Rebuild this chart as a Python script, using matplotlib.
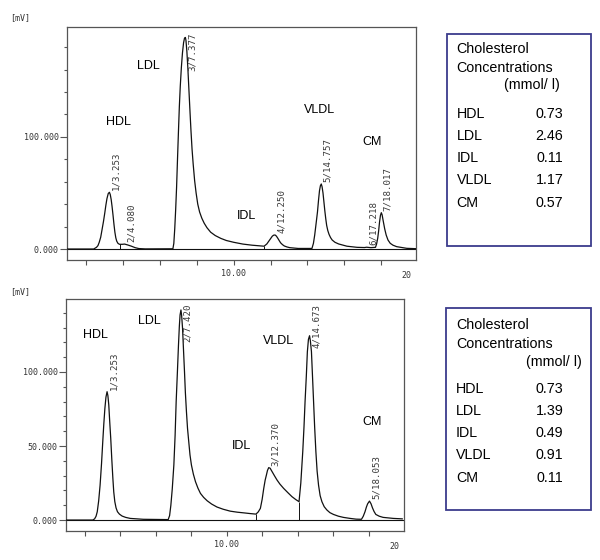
import numpy as np
import matplotlib
matplotlib.use("Agg")
import matplotlib.pyplot as plt
from matplotlib.patches import Rectangle

# ---------------- data ----------------
# top chromatogram trace (time [min], signal [mV])
top_t = [0.9, 2.40, 2.55, 2.63, 2.70, 2.78, 2.85, 2.93, 3.00, 3.06, 3.12, 3.19, 3.253,
         3.30, 3.35, 3.40, 3.45, 3.50, 3.55, 3.60, 3.65, 3.72, 3.80,
         3.95, 4.08, 4.25, 4.45, 4.65, 4.85, 5.2,
         6.70, 6.75, 6.80, 6.85, 6.90, 6.95, 7.00, 7.05, 7.10, 7.16, 7.22, 7.28, 7.33,
         7.377, 7.41, 7.46, 7.51, 7.57, 7.63, 7.68, 7.74, 7.80, 7.88, 7.96, 8.05, 8.15,
         8.27, 8.40, 8.55, 8.75, 9.0, 9.3, 9.6, 10.0, 10.5, 11.0, 11.65,
         11.80, 11.95, 12.10, 12.18, 12.25, 12.32, 12.40, 12.48, 12.55, 12.65, 12.75,
         12.9, 13.05, 13.5, 14.25,
         14.33, 14.40, 14.47, 14.55, 14.61, 14.66, 14.71, 14.757, 14.80, 14.85, 14.90,
         14.95, 15.00, 15.05, 15.11, 15.18, 15.26, 15.35, 15.5, 15.7, 16.15, 16.7,
         17.1, 17.218, 17.45, 17.70,
         17.76, 17.82, 17.87, 17.92, 17.97, 18.017, 18.06, 18.12, 18.20, 18.28, 18.38,
         18.5, 18.65, 18.85, 19.4, 19.9]
top_mv = [0.0, 0.0, 1.5, 3.0, 6.0, 10.5, 17.0, 24.5, 32.0, 39.0, 45.0, 49.5, 50.6,
          48.5, 44.0, 37.5, 30.0, 22.0, 15.0, 10.0, 7.0, 5.0, 4.2,
          4.2, 4.4, 3.6, 2.5, 1.2, 0.4, 0.1,
          0.2, 5.0, 18.0, 35.0, 55.0, 80.0, 104.0, 127.0, 145.0, 162.0, 175.0, 184.0, 188.0,
          188.7, 186.0, 176.0, 162.0, 142.0, 122.0, 106.0, 89.0, 76.0, 61.0, 50.0, 40.0, 33.0,
          27.5, 23.0, 19.0, 15.0, 12.0, 9.5, 7.6, 6.0, 4.4, 3.4, 2.5,
          4.5, 8.0, 11.5, 12.4, 12.5, 11.5, 9.5, 7.3, 5.5, 3.9, 2.7,
          1.8, 1.2, 0.5, 0.5,
          5.0, 12.5, 22.0, 33.0, 44.0, 52.0, 56.5, 58.0, 55.5, 50.0, 42.0,
          34.0, 27.0, 21.0, 16.5, 13.0, 10.2, 8.0, 6.0, 4.5, 2.5, 1.5,
          1.3, 1.6, 1.2, 1.5,
          4.5, 9.5, 16.0, 24.0, 30.0, 32.4, 30.5, 25.0, 18.0, 12.5, 8.0,
          5.1, 3.4, 2.1, 0.6, 0.3]
top_peak_rt = [3.253, 4.080, 7.377, 12.250, 14.757, 17.218, 18.017]
top_peak_mv = [50.6, 4.4, 188.7, 12.5, 58.0, 1.6, 32.4]
top_peak_tags = ["1/3.253", "2/4.080", "3/7.377", "4/12.250", "5/14.757", "6/17.218", "7/18.017"]
top_drop_t = [3.85, 11.65]
top_drop_mv = [4.2, 2.5]

# bottom chromatogram trace
bot_t = [0.9, 2.45, 2.55, 2.63, 2.70, 2.78, 2.86, 2.94, 3.01, 3.07, 3.13, 3.19, 3.253,
         3.30, 3.35, 3.40, 3.46, 3.52, 3.58, 3.63, 3.69, 3.76, 3.84, 3.95, 4.10, 4.3,
         4.56, 5.3,
         6.70, 6.78, 6.85, 6.93, 7.02, 7.09, 7.15, 7.22, 7.28, 7.33, 7.37, 7.42, 7.46,
         7.51, 7.56, 7.62, 7.67, 7.73, 7.79, 7.86, 7.93, 8.01, 8.12, 8.24, 8.38, 8.52,
         8.7, 8.9, 9.15, 9.45, 9.8, 10.2, 10.6, 11.0, 11.3, 11.65,
         11.78, 11.9, 12.0, 12.09, 12.17, 12.24, 12.30, 12.37, 12.45, 12.56, 12.7,
         12.84, 13.0, 13.21, 13.45, 13.68, 13.9, 14.08,
         14.18, 14.29, 14.36, 14.42, 14.49, 14.55, 14.61, 14.673, 14.72, 14.78, 14.84,
         14.90, 14.96, 15.03, 15.10, 15.18, 15.27, 15.37, 15.5, 15.65, 15.82, 16.02,
         16.3, 16.58, 16.96, 17.3, 17.6,
         17.70, 17.80, 17.88, 17.95, 18.053, 18.14, 18.22, 18.31, 18.41, 18.6, 18.82,
         19.4, 19.9]
bot_mv = [0.0, 0.0, 0.8, 2.5, 5.6, 13.0, 23.6, 38.0, 52.9, 65.0, 75.4, 83.0, 86.7,
          84.0, 77.7, 67.0, 55.2, 41.0, 28.2, 19.0, 12.4, 8.2, 5.6, 4.0, 2.7, 1.8,
          1.1, 0.5,
          0.3, 3.0, 9.9, 21.0, 37.2, 57.0, 79.9, 100.0, 118.0, 131.0, 138.5, 141.9, 138.0,
          129.5, 116.0, 100.2, 86.0, 73.2, 62.0, 52.9, 44.0, 37.2, 31.0, 25.9, 21.5, 18.0,
          15.3, 13.0, 10.8, 8.8, 7.3, 6.0, 5.3, 4.8, 4.4, 4.0,
          5.5, 7.9, 14.0, 21.4, 27.0, 30.4, 33.5, 35.4, 35.0, 32.7, 29.8,
          27.0, 24.3, 21.4, 18.5, 15.8, 13.8, 12.4,
          25.0, 46.2, 63.0, 80.0, 97.0, 113.7, 122.0, 124.5, 121.0, 113.7, 97.0,
          80.0, 63.0, 46.2, 33.0, 23.6, 16.5, 12.4, 9.0, 6.8, 5.0, 3.8,
          2.6, 1.8, 1.1, 0.6, 0.5,
          2.5, 5.6, 8.8, 11.0, 12.8, 11.0, 8.3, 5.8, 3.8, 2.6, 1.8,
          1.1, 0.8]
bot_peak_rt = [3.253, 7.420, 12.370, 14.673, 18.053]
bot_peak_mv = [86.7, 141.9, 35.4, 124.5, 12.8]
bot_peak_tags = ["1/3.253", "2/7.420", "3/12.370", "4/14.673", "5/18.053"]
bot_drop_t = [11.65, 14.08]
bot_drop_mv = [4.0, 12.4]

# lipoprotein class names written on the charts
classes = ["HDL", "LDL", "IDL", "VLDL", "CM"]

# concentration tables
table_title = ["Cholesterol", "Concentrations", "(mmol/ l)"]
top_conc = ["0.73", "2.46", "0.11", "1.17", "0.57"]
bot_conc = ["0.73", "1.39", "0.49", "0.91", "0.11"]

# ---------------- layout ----------------
W, H, DPI = 600, 560, 100
fig = plt.figure(figsize=(W / DPI, H / DPI), dpi=DPI)
fig.patch.set_facecolor("white")


def fx(px):
    return px / W


def fy(py):
    return 1 - py / H


def make_axes(l, t, r, b):
    return fig.add_axes([fx(l), fy(b), fx(r) - fx(l), fy(t) - fy(b)])


ax_top = make_axes(67, 27, 416, 260)
ax_bot = make_axes(65.7, 299, 404, 530.7)

MONO = "DejaVu Sans Mono"
SANS = "Liberation Sans"
INK = "#111111"
FRAME = "#555555"
TAGC = "#3a3a3a"


def style_axes(ax, xlim, ylim, ymajor, yminor, ylabels):
    ax.set_xlim(*xlim)
    ax.set_ylim(*ylim)
    for s in ax.spines.values():
        s.set_color(FRAME)
        s.set_linewidth(0.9)
    ax.set_xticks([10])
    ax.set_xticklabels(["10.00"])
    ax.set_xticks([t for t in range(2, 20, 2) if t != 10], minor=True)
    ax.set_yticks(ymajor)
    ax.set_yticklabels(ylabels)
    ax.set_yticks(yminor, minor=True)
    ax.tick_params(axis="x", which="both", direction="out", length=3.6, width=0.8,
                   color=FRAME, pad=3)
    ax.tick_params(axis="y", which="major", direction="out", length=4.8, width=0.8,
                   color=FRAME, pad=1)
    ax.tick_params(axis="y", which="minor", direction="out", length=2.4, width=0.8,
                   color=FRAME)
    for lab in ax.get_xticklabels() + ax.get_yticklabels():
        lab.set_fontfamily(MONO)
        lab.set_fontsize(6)
        lab.set_color("#333333")
    # right-end axis label "20"
    ax.annotate("20", xy=(1, 0), xycoords="axes fraction", xytext=(-3, -8),
                textcoords="offset points", ha="right", va="top",
                fontsize=6, family=MONO, color="#333333")


style_axes(ax_top, (0.95, 19.9), (-9.8, 198),
           [0, 100], [20, 40, 60, 80, 120, 140, 160, 180],
           ["0.000", "100.000"])
style_axes(ax_bot, (0.92, 20.0), (-7.2, 149.3),
           [0, 50, 100], [10, 20, 30, 40, 60, 70, 80, 90, 110, 120, 130, 140],
           ["0.000", "50.000", "100.000"])

# traces
for ax, t, mv, dt, dmv in [(ax_top, top_t, top_mv, top_drop_t, top_drop_mv),
                           (ax_bot, bot_t, bot_mv, bot_drop_t, bot_drop_mv)]:
    ax.axhline(0, color=INK, lw=0.8, zorder=2)
    ax.plot(t, mv, color=INK, lw=0.9, zorder=3, solid_joinstyle="round")
    ax.vlines(dt, 0, dmv, color=INK, lw=0.7, zorder=3)

# peak tags
tag_artists = []
for ax, rts, hs, tags in [(ax_top, top_peak_rt, top_peak_mv, top_peak_tags),
                          (ax_bot, bot_peak_rt, bot_peak_mv, bot_peak_tags)]:
    for rt, h, tg in zip(rts, hs, tags):
        a = ax.annotate(tg, xy=(rt, h), xytext=(1.5, 1.5), textcoords="offset points",
                        rotation=90, ha="left", va="bottom", fontsize=6.6,
                        family=MONO, color=TAGC, zorder=4)
        tag_artists.append((ax, a))

# class names on the charts (positions in data units)
top_class_pos = [(3.74, 113), (5.36, 163), (10.71, 29), (14.67, 124), (17.54, 95.5)]
bot_class_pos = [(2.57, 125), (5.62, 134.5), (10.86, 50), (12.9, 121), (18.2, 66.4)]
for ax, pos in [(ax_top, top_class_pos), (ax_bot, bot_class_pos)]:
    for name, (x, y) in zip(classes, pos):
        ax.text(x, y, name, ha="center", va="center", fontsize=9, family=SANS,
                color="#000000", zorder=5)

# keep tall-peak tags inside the frame
fig.canvas.draw()
r = fig.canvas.get_renderer()
for ax, a in tag_artists:
    bb = a.get_window_extent(r)
    limit = ax.get_window_extent(r).y1 - 5
    if bb.y1 > limit:
        dy_pt = (bb.y1 - limit) * 72.0 / DPI
        a.xyann = (1.5, 1.5 - dy_pt)

# unit labels
fig.text(fx(10), fy(20), "[mV]", fontsize=6, family=MONO, color="#333333", va="baseline")
fig.text(fx(10), fy(294), "[mV]", fontsize=6, family=MONO, color="#333333", va="baseline")

# concentration boxes
BOXC = "#3c3c8c"


def conc_box(l, t, r, b, title_base, unit_right, row_base, values):
    fig.patches.append(Rectangle((fx(l), fy(b)), fx(r) - fx(l), fy(t) - fy(b),
                                 transform=fig.transFigure, fill=False,
                                 edgecolor=BOXC, lw=1.3))
    fs = 10.3
    fig.text(fx(l + 10), fy(title_base[0]), table_title[0], fontsize=fs, family=SANS, va="baseline")
    fig.text(fx(l + 10), fy(title_base[1]), table_title[1], fontsize=fs, family=SANS, va="baseline")
    fig.text(fx(unit_right), fy(title_base[2]), table_title[2], fontsize=fs, family=SANS,
             va="baseline", ha="right")
    for i, (name, v) in enumerate(zip(classes, values)):
        fig.text(fx(l + 10), fy(row_base[i]), name, fontsize=fs, family=SANS, va="baseline")
        fig.text(fx(563.5), fy(row_base[i]), v, fontsize=fs, family=SANS, va="baseline", ha="right")


conc_box(446.7, 34, 591, 246, [52.7, 71.7, 89], 560, [118, 140, 162, 184, 207], top_conc)
conc_box(446, 308, 591, 510, [329, 348, 366], 581.5, [393.3, 415, 437.3, 459, 481.7], bot_conc)

fig.savefig("out.png", dpi=DPI)
